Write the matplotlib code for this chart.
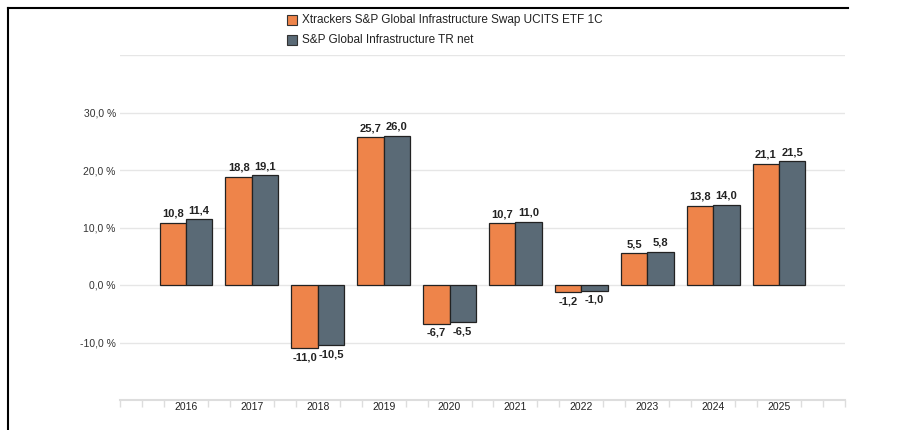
import numpy as np
import matplotlib.pyplot as plt
from matplotlib.patches import Rectangle
from matplotlib.lines import Line2D

plt.rcParams['font.family'] = ['Liberation Sans', 'DejaVu Sans']

years = ['2016', '2017', '2018', '2019', '2020', '2021', '2022', '2023', '2024', '2025']
etf = [10.8, 18.8, -11.0, 25.7, -6.7, 10.7, -1.2, 5.5, 13.8, 21.1]
index = [11.4, 19.1, -10.5, 26.0, -6.5, 11.0, -1.0, 5.8, 14.0, 21.5]
series_names = ['Xtrackers S&P Global Infrastructure Swap UCITS ETF 1C',
                'S&P Global Infrastructure TR net']
colors = ['#EE844A', '#5A6A76']

fig = plt.figure(figsize=(9.05, 4.3), dpi=100)
ax = fig.add_axes([120 / 905, 1 - 400 / 430, 725 / 905, 345 / 430])

x = np.arange(len(years))
w = 0.4
for vals, off, c in [(etf, -w / 2, colors[0]), (index, w / 2, colors[1])]:
    bars = ax.bar(x + off, vals, width=w, color=c, edgecolor='#222222', linewidth=0.9, zorder=3)
    for b, v in zip(bars, vals):
        lbl = f'{v:.1f}'.replace('.', ',')
        dy = 3 if v >= 0 else -3
        ax.annotate(lbl, (b.get_x() + b.get_width() / 2, v), xytext=(0, dy),
                    textcoords='offset points', ha='center',
                    va='bottom' if v >= 0 else 'top',
                    fontsize=8, fontweight='bold', color='#222222')

ax.set_xlim(-1, 10)
ax.set_ylim(-20, 40)
ax.set_yticks([-20, -10, 0, 10, 20, 30, 40])
ax.set_yticklabels(['', '-10,0 %', '0,0 %', '10,0 %', '20,0 %', '30,0 %', ''])
ax.grid(axis='y', color='#e6e6e6', linewidth=1, zorder=0)
ax.tick_params(axis='y', length=0, labelsize=7.5, labelcolor='#333333', pad=3)

ax.set_xticks(x)
ax.set_xticklabels(years)
minor = [k / 3 for k in range(-3, 31) if k % 3 != 0 or k in (-3, 30)]
ax.set_xticks(minor, minor=True)
ax.tick_params(axis='x', which='major', length=0, labelsize=7.5, labelcolor='#222222', pad=1.5)
ax.tick_params(axis='x', which='minor', length=5, color='#dddddd', width=1)

for s in ['top', 'right', 'left']:
    ax.spines[s].set_visible(False)
ax.spines['bottom'].set_color('#dddddd')
ax.spines['bottom'].set_linewidth(1.5)

# legend at the top
for i, (name, c) in enumerate(zip(series_names, colors)):
    yc = 1 - (20 + 20 * i) / 430
    fig.patches.append(Rectangle((287 / 905, yc - 5 / 430), 10 / 905, 10 / 430,
                                 transform=fig.transFigure, facecolor=c,
                                 edgecolor='#333333', linewidth=0.8))
    fig.text(302 / 905, yc, name, fontsize=8.5, color='#222222', va='center', ha='left')

# frame lines
fig.lines.append(Line2D([8 / 905, 848 / 905], [1 - 8 / 430, 1 - 8 / 430],
                        transform=fig.transFigure, color='black', linewidth=1.5))
fig.lines.append(Line2D([8 / 905, 8 / 905], [0, 1 - 8 / 430],
                        transform=fig.transFigure, color='black', linewidth=1.5))

fig.savefig('out.png', dpi=100)
